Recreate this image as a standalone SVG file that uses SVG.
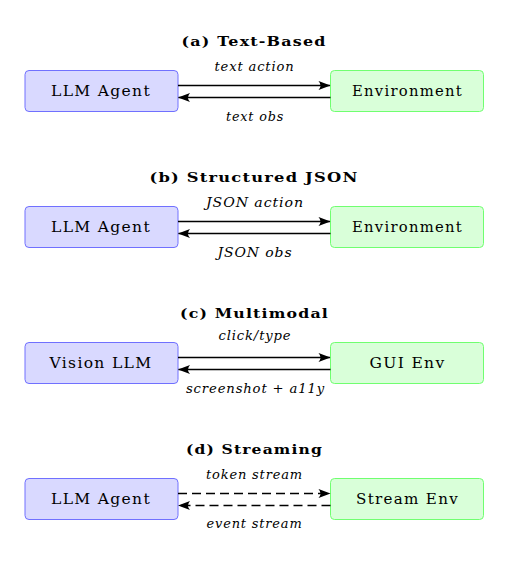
<svg xmlns="http://www.w3.org/2000/svg" width="508" height="563" viewBox="0 0 508 563">
<style>
.bg{fill:#fff}
.agent{fill:#d9d9ff;stroke:#7070ff;stroke-width:1}
.env{fill:#d9ffd9;stroke:#70ff70;stroke-width:1}
.t{font-family:"DejaVu Serif","Liberation Serif",serif;font-size:14px;fill:#000;text-anchor:middle;letter-spacing:1.2px}
.title{font-family:"DejaVu Serif","Liberation Serif",serif;font-size:13.5px;font-weight:bold;fill:#000;text-anchor:middle;letter-spacing:1px}
.lab{font-family:"DejaVu Serif","Liberation Serif",serif;font-size:12.5px;font-style:italic;fill:#000;text-anchor:middle;letter-spacing:0.8px}
.ar{stroke:#000;stroke-width:1.6;fill:none}
.dash{stroke-dasharray:9,5}
</style>
<defs>
<marker id="ah" viewBox="0 0 12 10" refX="11.5" refY="5" markerWidth="13" markerHeight="10" markerUnits="userSpaceOnUse" orient="auto-start-reverse">
<path d="M0,0.5 Q4,5 0,9.5 L12,5 Z" fill="#000"/>
</marker>
</defs>
<rect class="bg" width="508" height="563"/>
<g id="titles">
<text class="title" x="254" y="46" textLength="145" lengthAdjust="spacingAndGlyphs">(a) Text-Based</text>
<text class="title" x="254" y="182" textLength="209" lengthAdjust="spacingAndGlyphs">(b) Structured JSON</text>
<text class="title" x="254.5" y="318" textLength="149" lengthAdjust="spacingAndGlyphs">(c) Multimodal</text>
<text class="title" x="254.5" y="454" textLength="137" lengthAdjust="spacingAndGlyphs">(d) Streaming</text>
</g>
<g id="a-agent"><rect class="agent" x="25" y="70.5" width="153" height="41" rx="4"/><text class="t" x="101" y="96" textLength="100" lengthAdjust="spacingAndGlyphs">LLM Agent</text></g>
<g id="a-env"><rect class="env" x="330.5" y="70.5" width="153" height="41" rx="4"/><text class="t" x="407.5" y="96" textLength="111" lengthAdjust="spacingAndGlyphs">Environment</text></g>
<g id="b-agent"><rect class="agent" x="25" y="206.5" width="153" height="41" rx="4"/><text class="t" x="101" y="232" textLength="100" lengthAdjust="spacingAndGlyphs">LLM Agent</text></g>
<g id="b-env"><rect class="env" x="330.5" y="206.5" width="153" height="41" rx="4"/><text class="t" x="407.5" y="232" textLength="111" lengthAdjust="spacingAndGlyphs">Environment</text></g>
<g id="c-agent"><rect class="agent" x="25" y="342.5" width="153" height="41" rx="4"/><text class="t" x="101" y="368" textLength="103" lengthAdjust="spacingAndGlyphs">Vision LLM</text></g>
<g id="c-env"><rect class="env" x="330.5" y="342.5" width="153" height="41" rx="4"/><text class="t" x="407.5" y="368" textLength="76" lengthAdjust="spacingAndGlyphs">GUI Env</text></g>
<g id="d-agent"><rect class="agent" x="25" y="478.5" width="153" height="41" rx="4"/><text class="t" x="101" y="504" textLength="100" lengthAdjust="spacingAndGlyphs">LLM Agent</text></g>
<g id="d-env"><rect class="env" x="330.5" y="478.5" width="153" height="41" rx="4"/><text class="t" x="407.5" y="504" textLength="103" lengthAdjust="spacingAndGlyphs">Stream Env</text></g>
<g id="connectors">
<line class="ar" x1="178" y1="85.5" x2="330" y2="85.5" marker-end="url(#ah)"/>
<line class="ar" x1="330.5" y1="97.5" x2="178.5" y2="97.5" marker-end="url(#ah)"/>
<line class="ar" x1="178" y1="221.5" x2="330" y2="221.5" marker-end="url(#ah)"/>
<line class="ar" x1="330.5" y1="233.5" x2="178.5" y2="233.5" marker-end="url(#ah)"/>
<line class="ar" x1="178" y1="357.5" x2="330" y2="357.5" marker-end="url(#ah)"/>
<line class="ar" x1="330.5" y1="369.5" x2="178.5" y2="369.5" marker-end="url(#ah)"/>
<line class="ar dash" x1="178" y1="493.5" x2="330" y2="493.5" marker-end="url(#ah)"/>
<line class="ar dash" x1="330.5" y1="505.5" x2="178.5" y2="505.5" marker-end="url(#ah)"/>
<text class="lab" x="254.5" y="71" textLength="80" lengthAdjust="spacingAndGlyphs">text action</text>
<text class="lab" x="255" y="121" textLength="58" lengthAdjust="spacingAndGlyphs">text obs</text>
<text class="lab" x="255" y="207" textLength="98" lengthAdjust="spacingAndGlyphs">JSON action</text>
<text class="lab" x="255" y="257" textLength="75" lengthAdjust="spacingAndGlyphs">JSON obs</text>
<text class="lab" x="255" y="339.5" textLength="73" lengthAdjust="spacingAndGlyphs">click/type</text>
<text class="lab" x="255.5" y="393" textLength="139" lengthAdjust="spacingAndGlyphs">screenshot + a11y</text>
<text class="lab" x="254.5" y="479" textLength="97" lengthAdjust="spacingAndGlyphs">token stream</text>
<text class="lab" x="254.5" y="528" textLength="96" lengthAdjust="spacingAndGlyphs">event stream</text>
</g>
</svg>
